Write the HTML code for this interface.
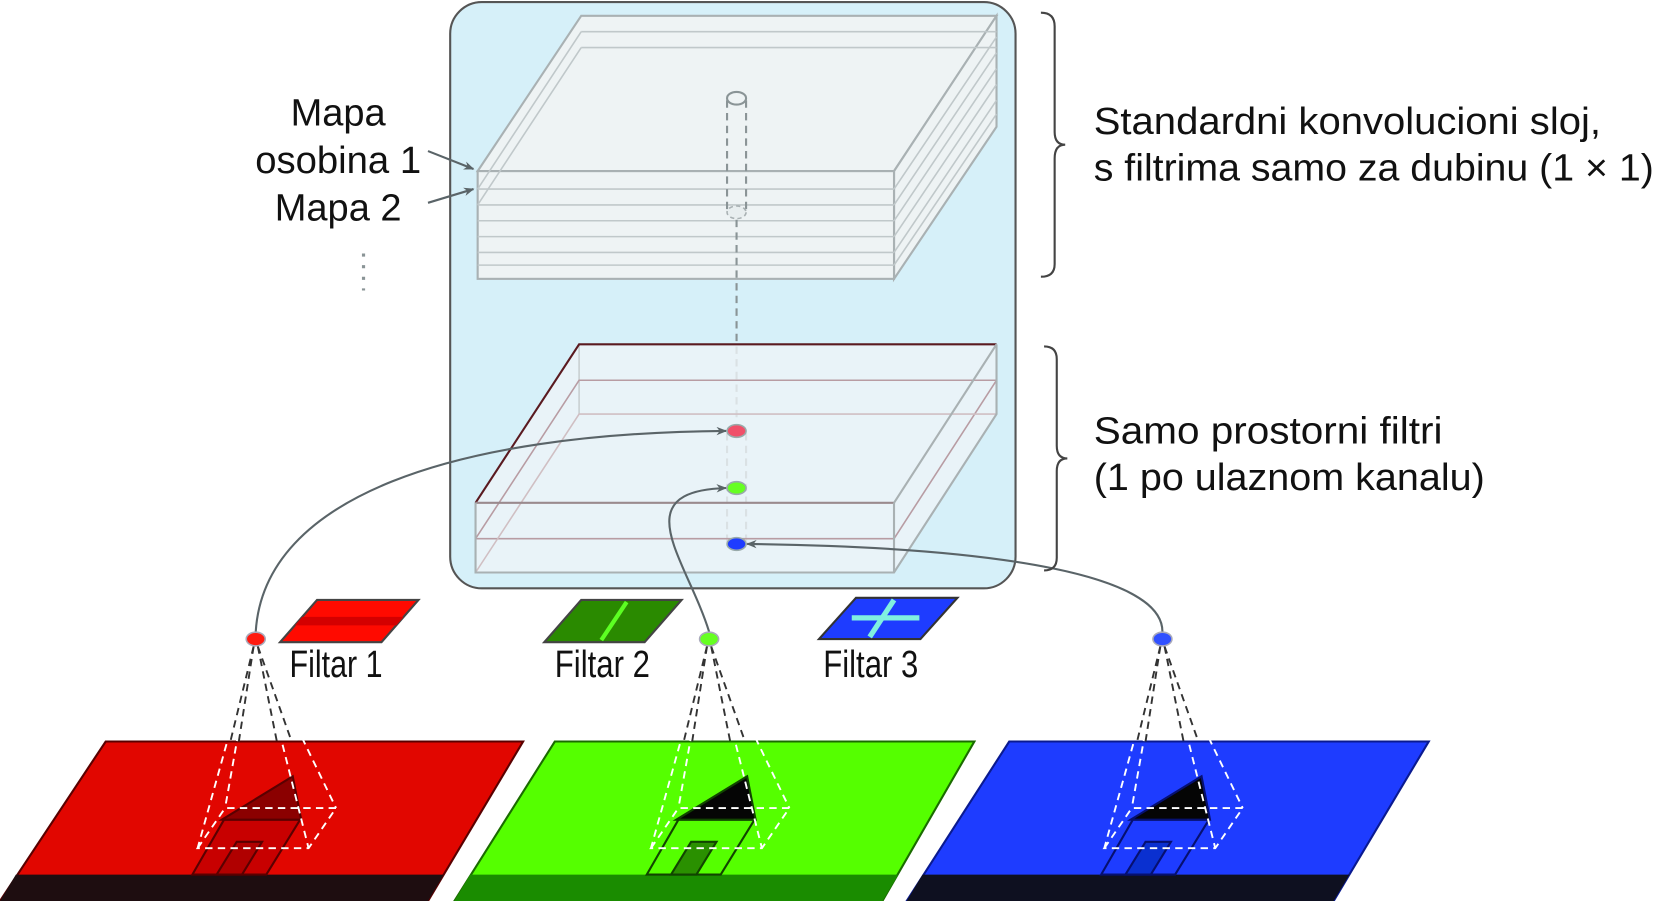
<!DOCTYPE html>
<html><head><meta charset="utf-8"><style>
html,body{margin:0;padding:0;background:#fff;}
svg{display:block;}
text{font-family:"Liberation Sans",sans-serif;font-size:36px;fill:#111;}
</style></head><body>
<svg width="1657" height="901" viewBox="0 0 1568 853" preserveAspectRatio="none" xmlns="http://www.w3.org/2000/svg">
<defs>
<marker id="ar" markerWidth="10" markerHeight="8" refX="9" refY="4" orient="auto" markerUnits="userSpaceOnUse">
<path d="M0,0 L10,4 L0,8 L3,4 Z" fill="#5a6468"/></marker>
</defs>
<rect x="426" y="2" width="535" height="555" rx="30" fill="#d6f0f9" stroke="#555" stroke-width="2"/>
<g stroke="#a9b1b3" stroke-width="2" fill="#eef3f4">
<polygon points="452,162 550,15 943,15 846,162"/>
<polygon points="846,162 943,15 943,120 846,264"/>
<rect x="452" y="162" width="394" height="102"/>
</g>
<g stroke="#c0c8ca" stroke-width="1.5" fill="none">
<line x1="550" y1="30" x2="943" y2="30"/><line x1="550" y1="45" x2="943" y2="45"/>
<line x1="452" y1="179" x2="846" y2="179"/><line x1="452" y1="194" x2="846" y2="194"/>
<line x1="452" y1="209" x2="846" y2="209"/><line x1="452" y1="224" x2="846" y2="224"/>
<line x1="452" y1="239" x2="846" y2="239"/><line x1="452" y1="251" x2="846" y2="251"/>
<line x1="846" y1="179" x2="943" y2="35"/><line x1="846" y1="194" x2="943" y2="50"/>
<line x1="846" y1="209" x2="943" y2="65"/><line x1="846" y1="224" x2="943" y2="80"/>
<line x1="846" y1="239" x2="943" y2="95"/><line x1="846" y1="251" x2="943" y2="108"/>
<line x1="452" y1="179" x2="550" y2="30"/><line x1="452" y1="194" x2="550" y2="45"/>
</g>
<g stroke="#8a9496" stroke-width="2" fill="none" stroke-dasharray="7,5">
<line x1="688" y1="95" x2="688" y2="200"/><line x1="706" y1="95" x2="706" y2="200"/>
<line x1="697" y1="208" x2="697" y2="400"/>
<line x1="688" y1="410" x2="688" y2="515"/><line x1="706" y1="410" x2="706" y2="515"/>
</g>
<ellipse cx="697" cy="93" rx="9" ry="6" fill="#eef3f4" stroke="#8a9496" stroke-width="2"/>
<ellipse cx="697" cy="201" rx="9" ry="6" fill="#e8eeef" stroke="#a9b1b3" stroke-width="1.5" stroke-dasharray="4,3"/>
<g fill="#eef4f7" fill-opacity="0.8">
<polygon points="450,476 548,326 943,326 846,476"/>
<polygon points="846,476 943,326 943,392 846,542"/>
<rect x="450" y="476" width="396" height="66"/>
</g>
<g fill="none" stroke-width="1.5">
<line x1="548" y1="326" x2="548" y2="392" stroke="#c8cfd1"/>
<polyline points="450,510 548,360 943,360" stroke="#b89ca3"/>
<line x1="450" y1="510" x2="846" y2="510" stroke="#b89ca3"/>
<line x1="846" y1="510" x2="943" y2="360" stroke="#b89ca3"/>
<polyline points="450,542 548,392 943,392" stroke="#d0bfc3"/>
</g>
<g fill="none" stroke-width="2">
<polyline points="450,476 548,326 943,326" stroke="#5a1a20"/>
<line x1="450" y1="476" x2="846" y2="476" stroke="#9a8a8e"/>
<polyline points="943,326 943,392 846,542 450,542 450,476" stroke="#a9b1b3"/>
<polyline points="846,476 943,326" stroke="#a9b1b3"/>
<line x1="846" y1="476" x2="846" y2="542" stroke="#a9b1b3"/>
</g>
<ellipse cx="697" cy="408" rx="9" ry="6" fill="#f0506a" stroke="#9aa" stroke-width="1.5"/>
<ellipse cx="697" cy="462" rx="9" ry="6" fill="#66ff22" stroke="#9aa" stroke-width="1.5"/>
<ellipse cx="697" cy="515" rx="9" ry="6" fill="#1e3cff" stroke="#9aa" stroke-width="1.5"/>
<g fill="none" stroke="#5a6468" stroke-width="2" marker-end="url(#ar)">
<path d="M242,598 C250,470 430,410 687,408"/>
<path d="M671,598 C650,530 590,465 687,462"/>
<path d="M1100,598 C1100,545 950,518 707,515"/>
</g>
<path d="M405,143 L448,160" stroke="#5a6468" stroke-width="2" marker-end="url(#ar)" fill="none"/>
<path d="M405,192 L448,179" stroke="#5a6468" stroke-width="2" marker-end="url(#ar)" fill="none"/>
<line x1="344" y1="240" x2="344" y2="275" stroke="#8a9496" stroke-width="3" stroke-dasharray="3,8"/>
<text x="320" y="119" text-anchor="middle">Mapa</text>
<text x="320" y="164" text-anchor="middle" textLength="157" lengthAdjust="spacingAndGlyphs">osobina 1</text>
<text x="320" y="209" text-anchor="middle">Mapa 2</text>
<text x="1035" y="127" font-size="37" textLength="480" lengthAdjust="spacingAndGlyphs">Standardni konvolucioni sloj,</text>
<text x="1035" y="171" font-size="37" textLength="530" lengthAdjust="spacingAndGlyphs">s filtrima samo za dubinu (1 × 1)</text>
<text x="1035" y="420" font-size="37" textLength="330" lengthAdjust="spacingAndGlyphs">Samo prostorni filtri</text>
<text x="1035" y="464" font-size="37" textLength="370" lengthAdjust="spacingAndGlyphs">(1 po ulaznom kanalu)</text>
<g fill="none" stroke="#444" stroke-width="2">
<path d="M985,12 Q998,12 998,25 L998,125 Q998,137 1008,137 Q998,137 998,150 L998,250 Q998,262 985,262"/>
<path d="M988,328 Q1000,328 1000,340 L1000,422 Q1000,434 1010,434 Q1000,434 1000,446 L1000,528 Q1000,540 988,540"/>
</g>
<polygon points="265,608 300,568 396,568 361,608" fill="#ff0a00" stroke="#444" stroke-width="2"/>
<polygon points="286,584 382,584 375,592 279,592" fill="#d40000"/>
<polygon points="515,608 550,568 645,568 610,608" fill="#2a8a00" stroke="#444" stroke-width="2"/>
<line x1="569" y1="606" x2="593" y2="570" stroke="#5cff22" stroke-width="4"/>
<polygon points="775,605 810,566 906,566 871,605" fill="#1e3cff" stroke="#333" stroke-width="2"/>
<line x1="806" y1="585" x2="870" y2="585" stroke="#80f0e0" stroke-width="5"/>
<line x1="823" y1="603" x2="846" y2="568" stroke="#80f0e0" stroke-width="5"/>
<text x="318" y="641" text-anchor="middle" font-size="31" textLength="88" lengthAdjust="spacingAndGlyphs">Filtar 1</text>
<text x="570" y="641" text-anchor="middle" font-size="31" textLength="90" lengthAdjust="spacingAndGlyphs">Filtar 2</text>
<text x="824" y="641" text-anchor="middle" font-size="31" textLength="90" lengthAdjust="spacingAndGlyphs">Filtar 3</text>
<polygon points="100,702 495,702 405,853 0,853" fill="#e10600" stroke="#5a0000" stroke-width="2"/>
<polygon points="15,828 420,828 405,853 0,853" fill="#1e0d10"/>
<polygon points="525,702 922,702 835,853 430,853" fill="#55ff00" stroke="#1a6b00" stroke-width="2"/>
<polygon points="445,828 850,828 835,853 430,853" fill="#1a8c00"/>
<polygon points="955,702 1352,702 1262,853 858,853" fill="#1e3cff" stroke="#0a1a90" stroke-width="2"/>
<polygon points="873,828 1277,828 1262,853 858,853" fill="#0e1020"/>
<g stroke="#5a0000" stroke-width="2">
<polygon points="182,828 212,776 284,776 252,828" fill="#c80000"/>
<polygon points="205,828 224,797 248,797 229,828" fill="#b00000"/>
<polygon points="210,776 277,735 285,776" fill="#8b0000"/>
</g>
<g stroke="#114400" stroke-width="2">
<polygon points="612,828 642,776 714,776 682,828" fill="#55ff00"/>
<polygon points="635,828 654,797 678,797 659,828" fill="#2a9000"/>
<polygon points="640,776 707,735 715,776" fill="#050505"/>
</g>
<g stroke="#061070" stroke-width="2">
<polygon points="1042,828 1072,776 1144,776 1112,828" fill="#1e3cff"/>
<polygon points="1065,828 1084,797 1108,797 1089,828" fill="#0a30d0"/>
<polygon points="1070,776 1137,735 1145,776" fill="#050505"/>
</g>
<g id="fr">
<g fill="none" stroke="#fff" stroke-width="1.8" stroke-dasharray="7,5">
<polygon points="187,803 213,765 318,765 292,803"/>
<line x1="240" y1="612" x2="187" y2="803"/><line x1="240" y1="612" x2="213" y2="765"/>
<line x1="244" y1="612" x2="318" y2="765"/><line x1="244" y1="612" x2="292" y2="803"/>
</g>
<g fill="none" stroke="#333" stroke-width="1.8" stroke-dasharray="7,5">
<line x1="240" y1="612" x2="218" y2="702"/><line x1="240" y1="612" x2="226" y2="702"/>
<line x1="244" y1="612" x2="262" y2="702"/><line x1="244" y1="612" x2="276" y2="702"/>
</g>
</g>
<use href="#fr" transform="translate(429,0)"/>
<use href="#fr" transform="translate(858,0)"/>
<ellipse cx="242" cy="605" rx="9" ry="6.5" fill="#ff1a10" stroke="#aab" stroke-width="1.5"/>
<ellipse cx="671" cy="605" rx="9" ry="6.5" fill="#66ff22" stroke="#aab" stroke-width="1.5"/>
<ellipse cx="1100" cy="605" rx="9" ry="6.5" fill="#3050ff" stroke="#aab" stroke-width="1.5"/>
</svg>
</body></html>
